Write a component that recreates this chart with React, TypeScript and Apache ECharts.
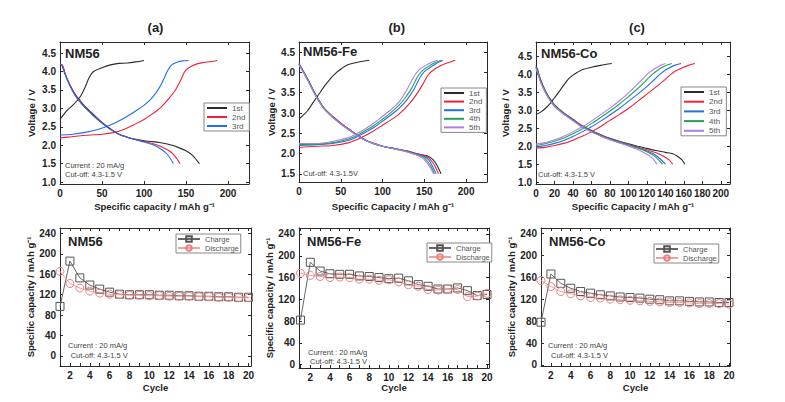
import React, { useEffect, useRef } from 'react';
import * as echarts from 'echarts';

// ---------- Voltage profiles: [capacity mAh/g, voltage V] ----------
// NM56
const a1Charge = [[0,2.7],[5,2.85],[10,2.98],[15,3.08],[20,3.2],[25,3.35],[30,3.58],[35,3.85],[40,4.0],[50,4.1],[60,4.18],[70,4.22],[80,4.23],[90,4.26],[100,4.3]];
const a1Discharge = [[0,4.2],[3,4.15],[6,3.95],[10,3.72],[15,3.5],[20,3.32],[25,3.18],[30,3.05],[40,2.83],[50,2.62],[60,2.45],[70,2.3],[80,2.22],[90,2.16],[100,2.12],[110,2.1],[120,2.07],[130,2.02],[140,1.95],[150,1.85],[158,1.72],[166,1.5]];
const a2Charge = [[0,2.2],[10,2.22],[25,2.26],[50,2.3],[65,2.35],[75,2.42],[90,2.58],[100,2.7],[110,2.85],[120,3.03],[130,3.28],[138,3.52],[144,3.78],[148,3.98],[152,4.08],[160,4.18],[170,4.24],[180,4.27],[187,4.3]];
const a2Discharge = [[0,4.2],[3,4.17],[6,3.95],[10,3.72],[15,3.48],[20,3.3],[25,3.15],[30,3.02],[40,2.8],[50,2.6],[60,2.43],[70,2.3],[80,2.22],[90,2.16],[100,2.1],[110,2.05],[120,1.97],[130,1.85],[137,1.7],[143,1.5]];
const a3Charge = [[0,2.28],[15,2.3],[30,2.35],[45,2.43],[60,2.55],[75,2.72],[90,2.93],[100,3.08],[110,3.3],[118,3.55],[124,3.82],[128,4.02],[133,4.18],[140,4.26],[147,4.29],[153,4.3]];
const a3Discharge = [[0,4.2],[2,4.18],[5,3.98],[10,3.7],[15,3.47],[20,3.28],[25,3.14],[30,3.02],[40,2.8],[50,2.6],[60,2.43],[70,2.3],[80,2.22],[90,2.15],[100,2.09],[110,2.02],[120,1.9],[128,1.75],[135,1.5]];

// NM56-Fe
const b1Charge = [[0,2.85],[5,2.95],[10,3.05],[15,3.2],[20,3.35],[25,3.5],[30,3.65],[35,3.78],[40,3.9],[45,4.0],[50,4.08],[55,4.15],[60,4.2],[70,4.25],[78,4.28],[84,4.3]];
const b1Discharge = [[0,4.2],[10,3.85],[20,3.45],[30,3.12],[40,2.92],[50,2.75],[60,2.6],[70,2.45],[80,2.33],[90,2.25],[100,2.18],[110,2.14],[120,2.1],[130,2.06],[140,2.0],[150,1.96],[155,1.93],[160,1.86],[165,1.72],[170,1.5]];
const b2Charge = [[0,2.15],[20,2.18],[40,2.2],[60,2.27],[70,2.35],[80,2.45],[90,2.57],[100,2.7],[110,2.83],[120,2.98],[130,3.18],[140,3.44],[148,3.7],[155,3.95],[162,4.08],[170,4.17],[180,4.25],[187,4.3]];
const b2Discharge = [[0,4.22],[10,3.85],[20,3.44],[30,3.12],[40,2.92],[50,2.75],[60,2.6],[70,2.45],[80,2.33],[90,2.25],[100,2.18],[110,2.14],[120,2.1],[130,2.06],[140,2.0],[150,1.95],[155,1.9],[160,1.78],[164,1.64],[167,1.5]];
const b3Charge = [[0,2.2],[20,2.22],[40,2.25],[60,2.33],[70,2.42],[80,2.53],[90,2.65],[100,2.8],[110,2.95],[120,3.12],[130,3.35],[138,3.6],[145,3.88],[150,4.02],[157,4.12],[163,4.2],[168,4.26],[172,4.3]];
const b3Discharge = [[0,4.22],[10,3.84],[20,3.43],[30,3.11],[40,2.91],[50,2.74],[60,2.59],[70,2.44],[80,2.32],[90,2.24],[100,2.18],[110,2.14],[120,2.1],[130,2.05],[140,1.99],[150,1.93],[155,1.85],[159,1.72],[164,1.5]];
const b4Charge = [[0,2.22],[20,2.23],[40,2.27],[60,2.36],[70,2.45],[80,2.57],[90,2.7],[100,2.85],[110,3.01],[120,3.2],[128,3.4],[135,3.62],[142,3.9],[148,4.05],[155,4.15],[162,4.23],[170,4.3]];
const b4Discharge = [[0,4.2],[10,3.83],[20,3.43],[30,3.11],[40,2.9],[50,2.73],[60,2.58],[70,2.44],[80,2.32],[90,2.24],[100,2.18],[110,2.13],[120,2.09],[130,2.04],[140,1.98],[148,1.92],[153,1.83],[158,1.68],[162,1.5]];
const b5Charge = [[0,2.25],[20,2.25],[40,2.3],[60,2.4],[70,2.5],[80,2.62],[90,2.76],[100,2.92],[110,3.08],[120,3.28],[127,3.5],[133,3.72],[139,3.95],[145,4.08],[152,4.18],[159,4.25],[166,4.3]];
const b5Discharge = [[0,4.18],[10,3.82],[20,3.42],[30,3.1],[40,2.9],[50,2.73],[60,2.58],[70,2.44],[80,2.32],[90,2.24],[100,2.18],[110,2.13],[120,2.09],[130,2.04],[140,1.97],[147,1.9],[152,1.8],[157,1.66],[161,1.5]];

// NM56-Co
const c1Charge = [[0,2.88],[5,2.95],[10,3.05],[15,3.18],[20,3.35],[25,3.52],[30,3.7],[35,3.87],[40,3.98],[45,4.06],[50,4.13],[60,4.2],[70,4.25],[82,4.3]];
const c1Discharge = [[0,4.25],[2,4.1],[5,3.85],[10,3.55],[15,3.33],[20,3.15],[30,2.93],[40,2.75],[50,2.57],[60,2.44],[70,2.32],[80,2.22],[90,2.14],[100,2.07],[110,2.0],[120,1.94],[130,1.88],[140,1.83],[148,1.79],[153,1.72],[158,1.62],[161,1.5]];
const c2Charge = [[0,1.95],[10,1.97],[20,2.02],[30,2.08],[40,2.17],[50,2.28],[60,2.4],[70,2.55],[80,2.72],[90,2.88],[100,3.05],[110,3.25],[120,3.45],[130,3.65],[138,3.82],[145,3.98],[150,4.08],[158,4.18],[165,4.25],[172,4.3]];
const c2Discharge = [[0,4.2],[2,4.06],[5,3.82],[10,3.53],[15,3.31],[20,3.14],[30,2.92],[40,2.74],[50,2.56],[60,2.43],[70,2.31],[80,2.21],[90,2.13],[100,2.05],[110,1.98],[120,1.9],[130,1.82],[138,1.72],[144,1.62],[148,1.5]];
const c3Charge = [[0,1.98],[10,2.02],[20,2.08],[30,2.16],[40,2.27],[50,2.4],[60,2.54],[70,2.7],[80,2.87],[90,3.05],[100,3.25],[110,3.45],[120,3.66],[128,3.85],[135,4.02],[142,4.15],[150,4.25],[157,4.3]];
const c3Discharge = [[0,4.2],[2,4.05],[5,3.8],[10,3.52],[15,3.3],[20,3.13],[30,2.91],[40,2.73],[50,2.55],[60,2.42],[70,2.3],[80,2.2],[90,2.12],[100,2.04],[110,1.96],[120,1.87],[128,1.78],[134,1.66],[140,1.5]];
const c4Charge = [[0,2.02],[10,2.07],[20,2.14],[30,2.23],[40,2.35],[50,2.48],[60,2.63],[70,2.8],[80,2.98],[90,3.17],[100,3.38],[110,3.6],[118,3.8],[125,3.98],[132,4.12],[140,4.24],[147,4.3]];
const c4Discharge = [[0,4.18],[2,4.04],[5,3.79],[10,3.51],[15,3.29],[20,3.12],[30,2.9],[40,2.72],[50,2.54],[60,2.41],[70,2.29],[80,2.19],[90,2.11],[100,2.03],[110,1.95],[120,1.85],[127,1.75],[132,1.64],[137,1.5]];
const c5Charge = [[0,2.06],[10,2.1],[20,2.18],[30,2.28],[40,2.4],[50,2.54],[60,2.7],[70,2.88],[80,3.06],[90,3.26],[100,3.48],[108,3.68],[115,3.86],[121,4.02],[128,4.15],[134,4.24],[140,4.3]];
const c5Discharge = [[0,4.15],[2,4.02],[5,3.78],[10,3.5],[15,3.28],[20,3.11],[30,2.89],[40,2.71],[50,2.53],[60,2.4],[70,2.28],[80,2.18],[90,2.09],[100,2.01],[108,1.93],[115,1.85],[122,1.75],[127,1.64],[131,1.5]];

// ---------- Cycling data ----------
const cycles = [1,2,3,4,5,6,7,8,9,10,11,12,13,14,15,16,17,18,19,20];
const aChargeCap = [97,186,153,139,131,125,121,120,120,120,119,119,118,118,117,117,116,116,115,115];
const aDischargeCap = [166,142,133,127,123,121,120,119,119,118,118,117,117,117,116,116,115,115,114,114];
const bChargeCap = [82,188,172,167,166,166,163,162,160,158,159,154,147,144,139,139,141,136,127,129];
const bDischargeCap = [168,164,162,160,161,160,157,157,155,156,152,147,144,138,137,139,138,125,126,131];
const cChargeCap = [78,166,149,140,134,131,128,126,124,123,122,120,119,117,117,116,115,115,114,114];
const cDischargeCap = [154,143,134,130,126,123,122,120,119,118,117,116,115,114,114,113,112,112,112,111];

// ---------- Tick labels ----------
const capTicks200 = [0, 50, 100, 150, 200];
const capTicksCo = [0, 20, 40, 60, 80, 100, 120, 140, 160, 180, 200];
const voltTicksA = [1.0, 1.5, 2.0, 2.5, 3.0, 3.5, 4.0, 4.5];
const voltTicksB = [1.5, 2.0, 2.5, 3.0, 3.5, 4.0, 4.5];
const cycleLabels = [2, 4, 6, 8, 10, 12, 14, 16, 18, 20];
const capacityTicks = [0, 40, 80, 120, 160, 200, 240];

const cycleNames = ['1st', '2nd', '3rd', '4th', '5th'];
const cycleColors = ['#2b2b2b', '#f0203c', '#1f6fe8', '#22a35a', '#b57be0'];

const FONT = '"Liberation Sans", Arial, Helvetica, sans-serif';

export default function App() {
  const ref = useRef<HTMLDivElement>(null);
  useEffect(() => {
    document.body.style.margin = '0';
    const chart = echarts.init(ref.current!, null, { renderer: 'svg' });

    const panels = [
      { grid: { left: 60, top: 42, width: 189, height: 142 }, xMin: 0, xMax: 225, xTicks: capTicks200, xLabels: capTicks200, yMin: 0.95, yMax: 4.8, yTicks: voltTicksA, xName: 'Specific capacity / mAh g⁻¹', yName: 'Voltage / V', yGap: 24, xGap: 17, yFmt: (v: number) => v.toFixed(1) },
      { grid: { left: 299, top: 42, width: 188, height: 140 }, xMin: 0, xMax: 225, xTicks: capTicks200, xLabels: capTicks200, yMin: 1.3, yMax: 4.75, yTicks: voltTicksB, xName: 'Specific Capacity / mAh g⁻¹', yName: 'Voltage / V', yGap: 23, xGap: 19, yFmt: (v: number) => v.toFixed(1) },
      { grid: { left: 536, top: 42, width: 194, height: 142 }, xMin: 0, xMax: 210, xTicks: capTicksCo, xLabels: capTicksCo, yMin: 0.95, yMax: 4.9, yTicks: voltTicksA, xName: 'Specific Capacity / mAh g⁻¹', yName: 'Voltage / V', yGap: 26, xGap: 17, yFmt: (v: number) => v.toFixed(1) },
      { grid: { left: 60, top: 228, width: 191, height: 138 }, xMin: 1, xMax: 20.25, xTicks: cycles, xLabels: cycleLabels, yMin: -20, yMax: 251, yTicks: capacityTicks, xName: 'Cycle', yName: 'Specific capacity / mAh g⁻¹', yGap: 24, xGap: 16, yFmt: (v: number) => String(v) },
      { grid: { left: 299, top: 228, width: 190, height: 140 }, xMin: 0.85, xMax: 20.2, xTicks: cycles, xLabels: cycleLabels, yMin: -6, yMax: 251, yTicks: capacityTicks, xName: 'Cycle', yName: 'Specific capacity / mAh g⁻¹', yGap: 21, xGap: 14, yFmt: (v: number) => String(v) },
      { grid: { left: 541, top: 228, width: 189, height: 138 }, xMin: 1, xMax: 20.1, xTicks: cycles, xLabels: cycleLabels, yMin: -2, yMax: 250, yTicks: capacityTicks, xName: 'Cycle', yName: 'Specific capacity / mAh g⁻¹', yGap: 22, xGap: 16, yFmt: (v: number) => String(v) },
    ];

    const axisLine = { show: true, onZero: false, lineStyle: { color: '#2a2a2a', width: 1 } };
    const labelStyle = { fontFamily: FONT, fontSize: 10, fontWeight: 'bold' as const, color: '#222' };
    const nameStyle = { fontFamily: FONT, fontSize: 9.5, fontWeight: 'bold' as const, color: '#222' };

    const xAxis: any[] = [];
    const yAxis: any[] = [];
    panels.forEach((p, i) => {
      xAxis.push({
        type: 'value', gridIndex: i, min: p.xMin, max: p.xMax, position: 'bottom',
        axisLine, splitLine: { show: false },
        axisTick: { show: true, inside: true, length: 3, customValues: p.xTicks, lineStyle: { color: '#2a2a2a' } },
        axisLabel: { ...labelStyle, margin: 4, customValues: p.xLabels, showMinLabel: true, showMaxLabel: true },
        name: p.xName, nameLocation: 'middle', nameGap: p.xGap, nameTextStyle: nameStyle,
      });
      xAxis.push({
        type: 'value', gridIndex: i, min: p.xMin, max: p.xMax, position: 'top',
        axisLine, splitLine: { show: false },
        axisTick: { show: true, inside: true, length: 3, customValues: p.xTicks, lineStyle: { color: '#2a2a2a' } },
        axisLabel: { show: false },
      });
      yAxis.push({
        type: 'value', gridIndex: i, min: p.yMin, max: p.yMax, position: 'left',
        axisLine, splitLine: { show: false },
        axisTick: { show: true, inside: true, length: 3, customValues: p.yTicks, lineStyle: { color: '#2a2a2a' } },
        axisLabel: { ...labelStyle, margin: 4, customValues: p.yTicks, formatter: p.yFmt },
        name: p.yName, nameLocation: 'middle', nameGap: p.yGap, nameRotate: 90, nameTextStyle: nameStyle,
      });
      yAxis.push({
        type: 'value', gridIndex: i, min: p.yMin, max: p.yMax, position: 'right',
        axisLine, splitLine: { show: false },
        axisTick: { show: true, inside: true, length: 3, customValues: p.yTicks, lineStyle: { color: '#2a2a2a' } },
        axisLabel: { show: false },
      });
    });

    const profiles = [
      [[a1Charge, a1Discharge], [a2Charge, a2Discharge], [a3Charge, a3Discharge]],
      [[b1Charge, b1Discharge], [b2Charge, b2Discharge], [b3Charge, b3Discharge], [b4Charge, b4Discharge], [b5Charge, b5Discharge]],
      [[c1Charge, c1Discharge], [c2Charge, c2Discharge], [c3Charge, c3Discharge], [c4Charge, c4Discharge], [c5Charge, c5Discharge]],
    ];

    const series: any[] = [];
    profiles.forEach((panel, pi) => {
      panel.forEach((pair, ci) => {
        pair.forEach((curve) => {
          series.push({
            type: 'line', name: cycleNames[ci], xAxisIndex: pi * 2, yAxisIndex: pi * 2,
            data: curve, symbol: 'none', showSymbol: false, smooth: 0.3,
            lineStyle: { color: cycleColors[ci], width: 1.1 }, itemStyle: { color: cycleColors[ci] },
          });
        });
      });
    });

    const cyc = [[aChargeCap, aDischargeCap], [bChargeCap, bDischargeCap], [cChargeCap, cDischargeCap]];
    cyc.forEach(([ch, dis], k) => {
      const gi = 3 + k;
      series.push({
        type: 'line', name: 'Charge', xAxisIndex: gi * 2, yAxisIndex: gi * 2,
        data: cycles.map((c, j) => [c, ch[j]]), symbol: 'rect', symbolSize: 8,
        lineStyle: { color: '#666', width: 1 },
        itemStyle: { color: 'rgba(255,255,255,0)', borderColor: '#555', borderWidth: 1 },
      });
      series.push({
        type: 'line', name: 'Discharge', xAxisIndex: gi * 2, yAxisIndex: gi * 2,
        data: cycles.map((c, j) => [c, dis[j]]), symbol: 'circle', symbolSize: 8,
        lineStyle: { color: '#f3a0a0', width: 1 },
        itemStyle: { color: 'rgba(255,255,255,0)', borderColor: '#ee7f7f', borderWidth: 1 },
      });
    });

    const legendBase = {
      orient: 'vertical', itemWidth: 20, itemHeight: 8, itemGap: 1,
      borderColor: '#888', borderWidth: 1, backgroundColor: '#fff', borderRadius: 0,
      textStyle: { fontFamily: FONT, fontSize: 8, color: '#555' }, selectedMode: false,
    };
    const hideSym = { itemStyle: { opacity: 0 } };
    const legend = [
      { ...legendBase, ...hideSym, data: cycleNames.slice(0, 3), left: 204, top: 103, padding: [1, 4, 1, 2] },
      { ...legendBase, ...hideSym, data: cycleNames, left: 441, top: 88, padding: [1, 4, 1, 2], itemGap: 0.6 },
      { ...legendBase, ...hideSym, data: cycleNames, left: 681, top: 87, padding: [1, 4, 1, 2], itemGap: 1.7 },
      { ...legendBase, data: ['Charge', 'Discharge'], left: 176, top: 234, padding: [1, 2, 1, 1], itemWidth: 22, itemHeight: 7, itemGap: 1, textStyle: { fontFamily: FONT, fontSize: 7.5, color: '#555' } },
      { ...legendBase, data: ['Charge', 'Discharge'], left: 427, top: 243, padding: [1, 2, 1, 1], itemWidth: 22, itemHeight: 7, itemGap: 1, textStyle: { fontFamily: FONT, fontSize: 7.5, color: '#555' } },
      { ...legendBase, data: ['Charge', 'Discharge'], left: 654, top: 244, padding: [1, 2, 1, 1], itemWidth: 22, itemHeight: 7, itemGap: 1, textStyle: { fontFamily: FONT, fontSize: 7.5, color: '#555' } },
    ];

    const txt = (x: number, y: number, text: string, size: number, bold: boolean, align = 'left', fill = '#222') => ({
      type: 'text', x, y, z: 100,
      style: { text, font: `${bold ? 'bold ' : ''}${size}px ${FONT}`, fill, textAlign: align, textVerticalAlign: 'middle' },
    });

    const graphic = [
      txt(155.5, 27, '(a)', 13, true, 'center'),
      txt(396.7, 27, '(b)', 13, true, 'center'),
      txt(637, 27, '(c)', 13, true, 'center'),
      txt(65, 53.5, 'NM56', 13, true),
      txt(303, 51.7, 'NM56-Fe', 13, true),
      txt(541, 53.3, 'NM56-Co', 13, true),
      txt(68, 241.7, 'NM56', 13, true),
      txt(307, 241, 'NM56-Fe', 13, true),
      txt(549, 241.7, 'NM56-Co', 13, true),
      txt(65, 165, 'Current : 20 mA/g', 7.5, false, 'left', '#444'),
      txt(65, 174.5, 'Cut-off: 4.3-1.5 V', 7.5, false, 'left', '#444'),
      txt(303, 173.2, 'Cut-off: 4.3-1.5V', 7.5, false, 'left', '#444'),
      txt(538, 174, 'Cut-off: 4.3-1.5 V', 7.5, false, 'left', '#444'),
      txt(68, 345, 'Current : 20 mA/g', 7.5, false, 'left', '#444'),
      txt(70.7, 355, 'Cut-off: 4.3-1.5 V', 7.5, false, 'left', '#444'),
      txt(308, 352, 'Current : 20 mA/g', 7.5, false, 'left', '#444'),
      txt(310, 361.5, 'Cut-off: 4.3-1.5 V', 7.5, false, 'left', '#444'),
      txt(548, 345, 'Current : 20 mA/g', 7.5, false, 'left', '#444'),
      txt(551, 355, 'Cut-off: 4.3-1.5 V', 7.5, false, 'left', '#444'),
    ];

    chart.setOption({
      animation: false,
      backgroundColor: '#fff',
      textStyle: { fontFamily: FONT },
      grid: panels.map((p) => ({ ...p.grid, containLabel: false })),
      xAxis, yAxis, series, legend, graphic,
    });
    return () => chart.dispose();
  }, []);
  return <div ref={ref} style={{ width: 785, height: 402 }} />;
}
